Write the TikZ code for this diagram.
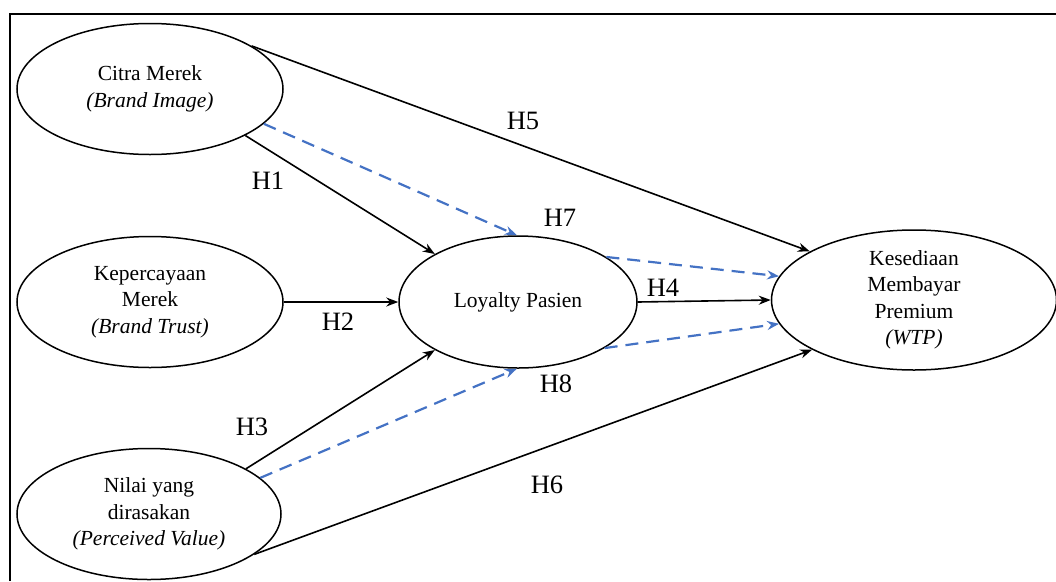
\documentclass[tikz,border=0pt]{standalone}
\usepackage{fontspec}
\setmainfont{Liberation Serif}
\usetikzlibrary{shapes.geometric,arrows.meta}
\definecolor{linkblue}{RGB}{68,114,196}
\tikzset{
  construct/.style={ellipse,draw,line width=1.5pt,inner sep=0pt,align=center,
    font=\fontsize{21.5}{26.5}\selectfont},
  path/.style={line width=1.6pt,-{Stealth[length=12pt,width=9pt]}},
  mediated/.style={line width=2.2pt,draw=linkblue,dash pattern=on 13pt off 8pt,
    -{Stealth[length=12pt,width=9pt,fill=linkblue]}},
  hyp/.style={font=\fontsize{26.5}{28}\selectfont,inner sep=0pt}
}
\begin{document}
\begin{tikzpicture}[x=1pt,y=-1pt]
\useasboundingbox (0,0) rectangle (1056,581);
% frame
\draw[line width=2pt] (10,581) -- (10,14) -- (1056,14);

% constructs
\node[construct,minimum width=266pt,minimum height=131pt] (bi) at (150,89)
  {Citra Merek\\\textit{(Brand Image)}};
\node[construct,minimum width=266pt,minimum height=131pt] (bt) at (150,302)
  {Kepercayaan\\Merek\\\textit{(Brand Trust)}};
\node[construct,minimum width=264pt,minimum height=131pt] (pv) at (149,514)
  {Nilai yang\\dirasakan\\\textit{(Perceived Value)}};
\node[construct,minimum width=238pt,minimum height=132pt] (lp) at (518,302)
  {Loyalty Pasien};
\node[construct,minimum width=285pt,minimum height=134pt] (wtp) at (914,300)
  {Kesediaan\\Membayar\\Premium\\\textit{(WTP)}};

% direct paths
\draw[path] (bi.23.4) -- (wtp.155.3);
\draw[path] (bi.-26.8) -- (lp.150.8);
\draw[path] (bt.east) -- (lp.west);
\draw[path] (pv.25.8) -- (lp.-150.8);
\draw[path] (lp.east) -- (wtp.west);
\draw[path] (pv.-21.3) -- (wtp.-154.8);

% mediated paths
\draw[mediated] (bi.-17.7) -- (lp.91);
\draw[mediated] (lp.27.9) -- (wtp.170.6);
\draw[mediated] (pv.18.6) -- (lp.-91);
\draw[mediated] (lp.-28.9) -- (wtp.-170.3);

% hypothesis labels
\node[hyp] (h1) at (268,181) {H1};
\node[hyp] (h2) at (338,322) {H2};
\node[hyp] (h3) at (252,427) {H3};
\node[hyp] (h4) at (663,288) {H4};
\node[hyp] (h5) at (523,121) {H5};
\node[hyp] (h6) at (547,485) {H6};
\node[hyp] (h7) at (560,218) {H7};
\node[hyp] (h8) at (556,384) {H8};
\end{tikzpicture}
\end{document}
